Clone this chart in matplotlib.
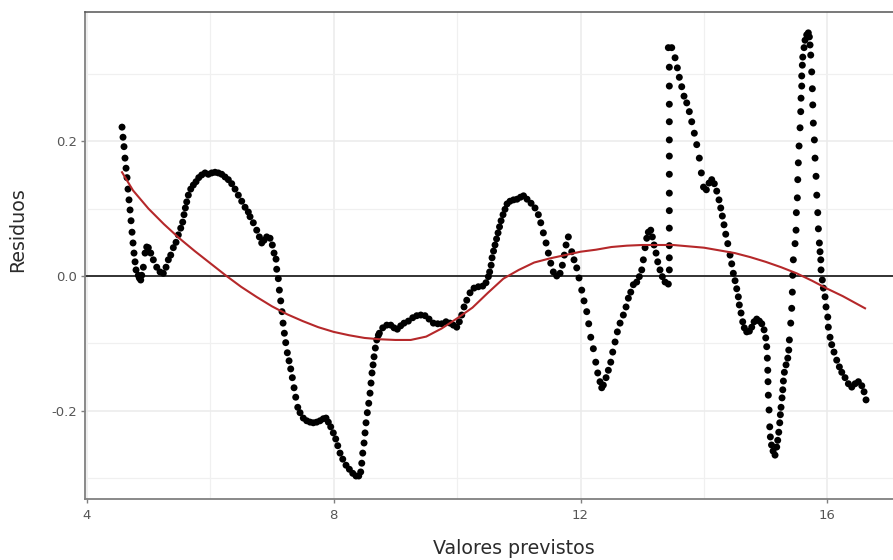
import matplotlib
matplotlib.use("Agg")
import matplotlib.pyplot as plt
from matplotlib.ticker import FixedLocator

# valores previstos (x) e residuos (y), na ordem da série
fitted = [
    4.572, 4.588, 4.604, 4.620, 4.637, 4.653, 4.669, 4.685, 4.702, 4.718,
    4.734, 4.750, 4.766, 4.783, 4.799, 4.836, 4.852, 4.875, 4.891, 4.917,
    4.945, 4.972, 4.998, 5.037, 5.079, 5.134, 5.188, 5.241, 5.285, 5.322,
    5.361, 5.403, 5.447, 5.484, 5.523, 5.555, 5.576, 5.598, 5.620, 5.646,
    5.685, 5.727, 5.771, 5.815, 5.863, 5.917, 5.970, 6.025, 6.079, 6.132,
    6.187, 6.241, 6.294, 6.349, 6.403, 6.456, 6.511, 6.565, 6.618, 6.646,
    6.699, 6.754, 6.797, 6.835, 6.873, 6.916, 6.970, 7.007, 7.035, 7.067,
    7.078, 7.104, 7.121, 7.143, 7.164, 7.181, 7.202, 7.224, 7.250, 7.278,
    7.305, 7.331, 7.359, 7.386, 7.419, 7.456, 7.509, 7.564, 7.618, 7.671,
    7.726, 7.780, 7.833, 7.877, 7.914, 7.953, 7.995, 8.034, 8.067, 8.104,
    8.148, 8.201, 8.255, 8.310, 8.363, 8.407, 8.439, 8.456, 8.472, 8.493,
    8.509, 8.525, 8.546, 8.569, 8.590, 8.606, 8.622, 8.639, 8.655, 8.676,
    8.699, 8.725, 8.741, 8.796, 8.861, 8.926, 8.979, 9.032, 9.087, 9.141,
    9.211, 9.282, 9.347, 9.412, 9.481, 9.546, 9.616, 9.687, 9.752, 9.821,
    9.886, 9.940, 9.995, 10.037, 10.076, 10.113, 10.157, 10.210, 10.275, 10.345,
    10.416, 10.469, 10.507, 10.528, 10.552, 10.567, 10.591, 10.615, 10.640, 10.664,
    10.688, 10.713, 10.745, 10.777, 10.810, 10.858, 10.915, 10.972, 11.028, 11.077,
    11.134, 11.199, 11.263, 11.317, 11.356, 11.398, 11.442, 11.479, 11.518, 11.560,
    11.615, 11.669, 11.706, 11.738, 11.766, 11.803, 11.858, 11.895, 11.939, 11.976,
    12.020, 12.057, 12.101, 12.133, 12.166, 12.208, 12.247, 12.279, 12.316, 12.344,
    12.370, 12.414, 12.451, 12.490, 12.522, 12.560, 12.597, 12.641, 12.694, 12.738,
    12.775, 12.814, 12.856, 12.911, 12.953, 12.992, 13.018, 13.046, 13.073, 13.099,
    13.138, 13.164, 13.192, 13.224, 13.251, 13.288, 13.326, 13.370, 13.423, 13.439,
    13.439, 13.439, 13.439, 13.439, 13.439, 13.439, 13.439, 13.439, 13.439, 13.439,
    13.439, 13.439, 13.423, 13.478, 13.532, 13.569, 13.601, 13.640, 13.677, 13.721,
    13.763, 13.802, 13.844, 13.883, 13.925, 13.958, 13.993, 14.039, 14.083, 14.126,
    14.168, 14.207, 14.244, 14.272, 14.298, 14.325, 14.353, 14.386, 14.423, 14.450,
    14.476, 14.504, 14.531, 14.557, 14.573, 14.601, 14.628, 14.654, 14.693, 14.736,
    14.774, 14.812, 14.855, 14.898, 14.937, 14.974, 15.001, 15.017, 15.027, 15.034,
    15.038, 15.043, 15.055, 15.066, 15.076, 15.095, 15.120, 15.152, 15.179, 15.195,
    15.212, 15.228, 15.238, 15.249, 15.265, 15.277, 15.287, 15.303, 15.330, 15.358,
    15.374, 15.384, 15.406, 15.422, 15.432, 15.438, 15.448, 15.476, 15.492, 15.497,
    15.513, 15.520, 15.529, 15.541, 15.557, 15.568, 15.573, 15.584, 15.584, 15.594,
    15.601, 15.622, 15.638, 15.665, 15.691, 15.708, 15.719, 15.730, 15.746, 15.756,
    15.763, 15.772, 15.789, 15.800, 15.816, 15.828, 15.844, 15.854, 15.870, 15.881,
    15.893, 15.897, 15.918, 15.935, 15.962, 15.978, 16.006, 16.015, 16.043, 16.070,
    16.107, 16.151, 16.194, 16.233, 16.286, 16.340, 16.395, 16.449, 16.502, 16.557,
    16.594, 16.626,
]
residuals = [
    0.221, 0.206, 0.192, 0.175, 0.160, 0.146, 0.129, 0.113, 0.098, 0.082,
    0.065, 0.049, 0.034, 0.021, 0.009, 0.001, -0.003, -0.006, 0.001, 0.013,
    0.034, 0.043, 0.042, 0.034, 0.024, 0.013, 0.006, 0.004, 0.013, 0.024,
    0.031, 0.042, 0.050, 0.061, 0.071, 0.080, 0.091, 0.101, 0.110, 0.120,
    0.129, 0.135, 0.140, 0.146, 0.150, 0.153, 0.151, 0.153, 0.154, 0.153,
    0.151, 0.147, 0.143, 0.137, 0.129, 0.120, 0.111, 0.102, 0.095, 0.088,
    0.079, 0.068, 0.058, 0.049, 0.053, 0.058, 0.056, 0.046, 0.034, 0.025,
    0.010, -0.004, -0.021, -0.037, -0.053, -0.070, -0.085, -0.099, -0.114, -0.126,
    -0.138, -0.151, -0.166, -0.180, -0.195, -0.203, -0.211, -0.215, -0.217, -0.218,
    -0.217, -0.215, -0.212, -0.211, -0.217, -0.224, -0.233, -0.242, -0.252, -0.263,
    -0.272, -0.281, -0.287, -0.293, -0.297, -0.297, -0.291, -0.278, -0.263, -0.248,
    -0.233, -0.218, -0.203, -0.189, -0.174, -0.159, -0.144, -0.132, -0.120, -0.107,
    -0.095, -0.088, -0.085, -0.077, -0.073, -0.073, -0.077, -0.079, -0.074, -0.070,
    -0.067, -0.062, -0.059, -0.058, -0.059, -0.064, -0.070, -0.071, -0.071, -0.068,
    -0.070, -0.073, -0.076, -0.068, -0.058, -0.046, -0.036, -0.025, -0.018, -0.016,
    -0.015, -0.010, -0.001, 0.006, 0.016, 0.027, 0.037, 0.046, 0.055, 0.064,
    0.073, 0.082, 0.091, 0.099, 0.107, 0.111, 0.113, 0.114, 0.117, 0.119,
    0.114, 0.108, 0.101, 0.091, 0.079, 0.064, 0.049, 0.034, 0.019, 0.006,
    0.000, 0.004, 0.016, 0.031, 0.046, 0.058, 0.036, 0.024, 0.012, -0.003,
    -0.021, -0.037, -0.053, -0.071, -0.091, -0.108, -0.128, -0.144, -0.157, -0.166,
    -0.162, -0.151, -0.140, -0.128, -0.113, -0.098, -0.083, -0.070, -0.058, -0.046,
    -0.033, -0.024, -0.013, -0.009, -0.001, 0.009, 0.024, 0.042, 0.056, 0.065,
    0.068, 0.058, 0.046, 0.034, 0.021, 0.009, -0.001, -0.009, -0.012, 0.009,
    0.027, 0.045, 0.071, 0.097, 0.123, 0.151, 0.178, 0.202, 0.229, 0.255,
    0.282, 0.310, 0.339, 0.339, 0.324, 0.309, 0.295, 0.281, 0.267, 0.257,
    0.244, 0.229, 0.212, 0.195, 0.175, 0.153, 0.132, 0.128, 0.138, 0.143,
    0.137, 0.126, 0.113, 0.101, 0.089, 0.076, 0.062, 0.048, 0.031, 0.018,
    0.004, -0.007, -0.019, -0.031, -0.043, -0.055, -0.068, -0.077, -0.083, -0.082,
    -0.076, -0.068, -0.064, -0.067, -0.071, -0.080, -0.092, -0.105, -0.122, -0.140,
    -0.157, -0.177, -0.199, -0.224, -0.239, -0.251, -0.260, -0.266, -0.254, -0.244,
    -0.232, -0.218, -0.206, -0.195, -0.181, -0.169, -0.156, -0.143, -0.132, -0.122,
    -0.110, -0.095, -0.070, -0.048, -0.024, 0.001, 0.024, 0.048, 0.068, 0.094,
    0.116, 0.143, 0.168, 0.193, 0.220, 0.244, 0.264, 0.282, 0.297, 0.313,
    0.325, 0.339, 0.350, 0.358, 0.361, 0.355, 0.343, 0.328, 0.303, 0.278,
    0.254, 0.227, 0.202, 0.175, 0.148, 0.120, 0.094, 0.070, 0.049, 0.036,
    0.024, 0.009, -0.006, -0.018, -0.031, -0.046, -0.061, -0.076, -0.091, -0.102,
    -0.113, -0.125, -0.135, -0.143, -0.151, -0.160, -0.165, -0.160, -0.157, -0.163,
    -0.172, -0.184,
]

# curva suavizada (loess) dos residuos
smooth_x = [4.572, 4.75, 5.0, 5.25, 5.5, 5.75, 6.0, 6.25, 6.5, 6.75,
            7.0, 7.25, 7.5, 7.75, 8.0, 8.25, 8.5, 8.75, 9.0, 9.25,
            9.5, 9.75, 10.0, 10.25, 10.5, 10.75, 11.0, 11.25, 11.5, 11.75,
            12.0, 12.25, 12.5, 12.75, 13.0, 13.25, 13.5, 13.75, 14.0, 14.25,
            14.5, 14.75, 15.0, 15.25, 15.5, 15.75, 16.0, 16.25, 16.61]
smooth_y = [0.154, 0.127, 0.100, 0.077, 0.056, 0.037, 0.019, 0.001, -0.016, -0.031,
            -0.045, -0.057, -0.067, -0.076, -0.083, -0.088, -0.092, -0.094, -0.095, -0.095,
            -0.090, -0.078, -0.063, -0.047, -0.025, -0.004, 0.009, 0.020, 0.026, 0.031,
            0.036, 0.039, 0.043, 0.045, 0.046, 0.046, 0.046, 0.044, 0.042, 0.038,
            0.034, 0.028, 0.021, 0.013, 0.004, -0.007, -0.019, -0.030, -0.048]

x_major = [4, 8, 12, 16]
x_minor = [6, 10, 14]
y_major = [-0.2, 0.0, 0.2]
y_minor = [-0.3, -0.1, 0.1, 0.3]
y_labels = ["-0.2", "0.0", "0.2"]

fig = plt.figure(figsize=(8.93, 5.60), dpi=100)
ax = fig.add_axes([85 / 893, 60.7 / 560, 823 / 893, 487.6 / 560])

ax.set_xlim(3.972, 17.306)
ax.set_ylim(-0.3316, 0.3924)

ax.xaxis.set_major_locator(FixedLocator(x_major))
ax.xaxis.set_minor_locator(FixedLocator(x_minor))
ax.yaxis.set_major_locator(FixedLocator(y_major))
ax.yaxis.set_minor_locator(FixedLocator(y_minor))
ax.set_yticklabels(y_labels)

ax.grid(which="major", color="#ebebeb", lw=1.1, zorder=0)
ax.grid(which="minor", color="#f0f0f0", lw=0.9, zorder=0)
ax.set_axisbelow(True)

ax.axhline(0, color="black", lw=1.1, zorder=1)
ax.scatter(fitted, residuals, s=25, color="black", edgecolors="none", zorder=2)
ax.plot(smooth_x, smooth_y, color="#b5282a", lw=1.5, zorder=3)

for side in ["left", "bottom"]:
    ax.spines[side].set_color("#808080")
    ax.spines[side].set_linewidth(1.3)
ax.spines["top"].set_color("#555555")
ax.spines["top"].set_linewidth(1.1)
ax.spines["right"].set_color("#555555")

ax.tick_params(which="major", length=3, width=1, color="#808080",
               labelsize=9.5, labelcolor="#555555", pad=2.5)
ax.tick_params(which="minor", length=0)
ax.tick_params(axis="x", pad=4)

fig.text(17.5 / 893, 1 - 230 / 560, "Residuos", rotation=90,
         ha="center", va="center", fontsize=13.7, color="#2b2b2b")
fig.text(514 / 893, 1 - 539 / 560, "Valores previstos",
         ha="center", va="top", fontsize=13.7, color="#2b2b2b")

fig.savefig("out.png", dpi=100)
